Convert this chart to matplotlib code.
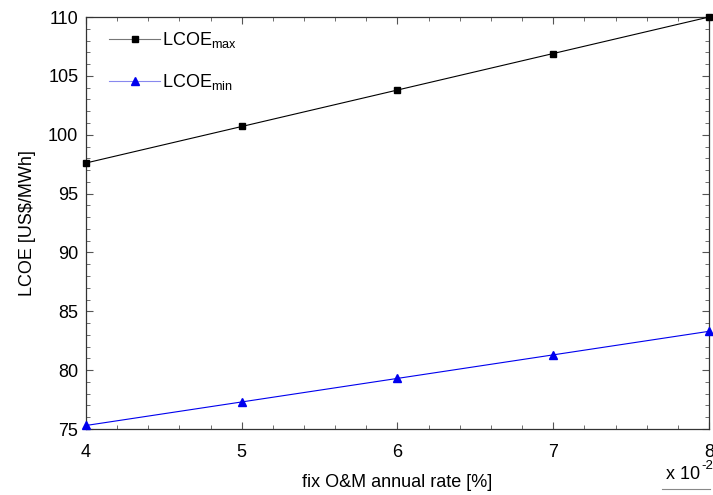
import matplotlib
matplotlib.use("Agg")
import matplotlib.pyplot as plt
from matplotlib.ticker import MultipleLocator
from matplotlib.lines import Line2D

plt.rcParams['font.family'] = ['Liberation Sans', 'DejaVu Sans']
plt.rcParams['mathtext.fontset'] = 'custom'
plt.rcParams['mathtext.rm'] = 'Liberation Sans'
plt.rcParams['mathtext.it'] = 'Liberation Sans'

# data (fix O&M rate in units of 1e-2)
rate = [4, 5, 6, 7, 8]
lcoe_max = [97.6, 100.7, 103.8, 106.9, 110.0]
lcoe_min = [75.3, 77.3, 79.3, 81.3, 83.3]

FS = 13

fig = plt.figure(figsize=(7.13, 4.95), dpi=100)
ax = fig.add_axes([0.1206, 0.1333, 0.8738, 0.8323])

ax.plot(rate, lcoe_max, color='black', lw=0.8, marker='s', ms=5,
        clip_on=False, zorder=3)
ax.plot(rate, lcoe_min, color='#0000ee', lw=0.8, marker='^', ms=5.5,
        clip_on=False, zorder=3)

ax.set_xlim(4, 8)
ax.set_ylim(75, 110)
ax.xaxis.set_major_locator(MultipleLocator(1))
ax.xaxis.set_minor_locator(MultipleLocator(0.2))
ax.yaxis.set_major_locator(MultipleLocator(5))
ax.yaxis.set_minor_locator(MultipleLocator(1))
ax.tick_params(which='both', direction='in', top=True, right=True,
               labelsize=FS, color='#555555')
ax.tick_params(which='major', length=5, width=0.8)
ax.tick_params(which='minor', length=3, width=0.6)
ax.tick_params(axis='x', pad=11)
ax.tick_params(axis='y', pad=5.5)
for s in ax.spines.values():
    s.set_color('#333333')
    s.set_linewidth(0.9)

ax.set_xlabel('fix O&M annual rate [%]', fontsize=FS, labelpad=9)
ax.set_ylabel('LCOE [US\\$/MWh]', fontsize=FS, labelpad=9)

# offset text, placed like the original
fig.text(0.982, 0.033, 'x 10', ha='right', va='baseline', fontsize=FS)
fig.text(0.983, 0.053, '-2', ha='left', va='baseline', fontsize=9.5)
fig.add_artist(Line2D([0.928, 0.996], [0.012, 0.012], color='#888888', lw=0.8))

h1 = Line2D([], [], color='#777777', lw=0.8, marker='s', ms=5,
            mfc='black', mec='black')
h2 = Line2D([], [], color='#8888ee', lw=0.8, marker='^', ms=5.5,
            mfc='#0000ee', mec='#0000ee')
ax.legend([h1, h2], ['LCOE$_{\\mathrm{max}}$', 'LCOE$_{\\mathrm{min}}$'],
          loc='upper left', frameon=False, fontsize=FS,
          handlelength=2.8, handletextpad=0.1, labelspacing=1.2,
          borderaxespad=0.0, bbox_to_anchor=(0.026, 0.985))

fig.savefig('out.png', dpi=100)
